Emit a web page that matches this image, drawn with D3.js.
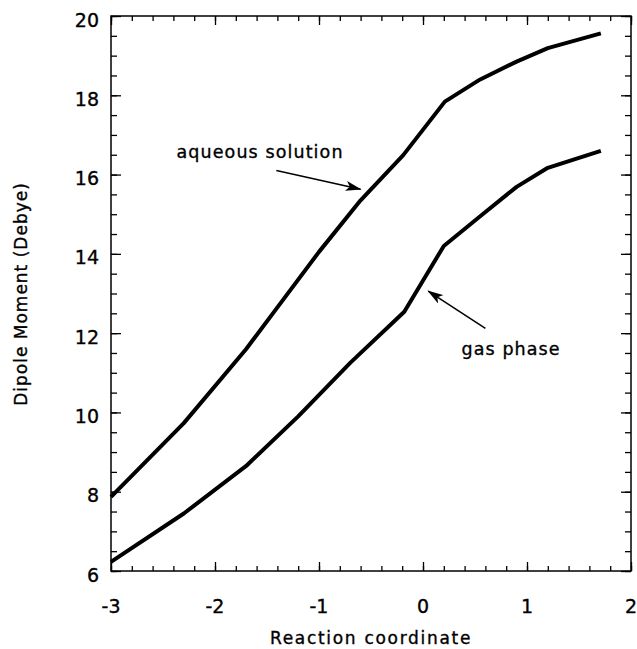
<!DOCTYPE html>
<html>
<head>
<meta charset="utf-8">
<script src="https://cdn.jsdelivr.net/npm/d3@7"></script>
<style>
  body { margin: 0; background: #fff; }
  text { font-family: "DejaVu Sans", Verdana, sans-serif; fill: #000; stroke: #000; stroke-width: 0.35px; }
</style>
</head>
<body>
<svg id="chart" width="637" height="649"></svg>
<script>
// reaction coordinate values
var aqueousX = [-3, -2.3, -1.7, -1.4, -1.0, -0.6, -0.19, 0.21, 0.55, 0.9, 1.2, 1.71];
var aqueousY = [7.87, 9.73, 11.6, 12.65, 14.05, 15.35, 16.49, 17.84, 18.4, 18.85, 19.19, 19.56];
var gasX = [-3, -2.3, -1.7, -1.2, -0.7, -0.18, 0.2, 0.55, 0.9, 1.2, 1.71];
var gasY = [6.23, 7.45, 8.65, 9.9, 11.25, 12.54, 14.2, 14.95, 15.69, 16.17, 16.6];

var xTicks = [-3, -2, -1, 0, 1, 2];
var yTicks = [6, 8, 10, 12, 14, 16, 18, 20];

// annotations: label, label position, arrow tail, arrow head (data coords)
var notes = [
	{text: "aqueous  solution", lx: -2.37, ly: 16.41, x1: -1.41, y1: 16.1, x2: -0.6, y2: 15.63},
	{text: "gas  phase", lx: 0.37, ly: 11.45, x1: 0.6, y1: 12.12, x2: 0.05, y2: 13.06}
];

var svg = d3.select("#chart"),
    W = +svg.attr("width"),
    H = +svg.attr("height");
var margin = {top: 16, right: 6, bottom: 78, left: 111};
var width = W - margin.left - margin.right,
    height = H - margin.top - margin.bottom;

var g = svg.append("g").attr("transform", "translate(" + margin.left + "," + margin.top + ")");

var x = d3.scaleLinear().domain([-3, 2]).range([0, width]);
var y = d3.scaleLinear().domain([6, 20]).range([height, 0]);

var xMinor = d3.range(-3, 2.001, 0.2).map(function(v) { return Math.round(v * 10) / 10; });
var yMinor = d3.range(6, 20.001, 0.5);

function styleAxis(sel) {
	sel.select(".domain").remove();
	sel.selectAll("line").attr("stroke", "#000").attr("stroke-width", 1.3);
	sel.selectAll("text").remove();
}

// minor + major ticks on all four sides, pointing inward
g.append("g").attr("transform", "translate(0," + height + ")")
	.call(d3.axisBottom(x).tickValues(xMinor).tickSize(-5)).call(styleAxis);
g.append("g").attr("transform", "translate(0," + height + ")")
	.call(d3.axisBottom(x).tickValues(xTicks).tickSize(-9)).call(styleAxis);
g.append("g")
	.call(d3.axisTop(x).tickValues(xMinor).tickSize(-5)).call(styleAxis);
g.append("g")
	.call(d3.axisTop(x).tickValues(xTicks).tickSize(-9)).call(styleAxis);
g.append("g")
	.call(d3.axisLeft(y).tickValues(yMinor).tickSize(-6)).call(styleAxis);
g.append("g")
	.call(d3.axisLeft(y).tickValues(yTicks).tickSize(-10)).call(styleAxis);
g.append("g").attr("transform", "translate(" + width + ",0)")
	.call(d3.axisRight(y).tickValues(yMinor).tickSize(-6)).call(styleAxis);
g.append("g").attr("transform", "translate(" + width + ",0)")
	.call(d3.axisRight(y).tickValues(yTicks).tickSize(-10)).call(styleAxis);

// frame
g.append("rect")
	.attr("width", width).attr("height", height)
	.attr("fill", "none").attr("stroke", "#000").attr("stroke-width", 1.5);

// tick labels
g.selectAll(".xlab").data(xTicks).enter().append("text")
	.attr("x", function(d) { return x(d); })
	.attr("y", height + 42)
	.attr("text-anchor", "middle")
	.style("font-size", "19px")
	.text(function(d) { return d; });

g.selectAll(".ylab").data(yTicks).enter().append("text")
	.attr("x", -12)
	.attr("y", function(d) { return y(d) + 10.5; })
	.attr("text-anchor", "end")
	.style("font-size", "19px")
	.text(function(d) { return d; });

// axis titles
g.append("text")
	.attr("x", width / 2).attr("y", height + 73)
	.attr("text-anchor", "middle")
	.style("font-size", "17px").style("letter-spacing", "1.7px")
	.text("Reaction  coordinate");

g.append("text")
	.attr("transform", "translate(" + (27 - margin.left) + "," + (294 - margin.top) + ") rotate(-90)")
	.attr("text-anchor", "middle")
	.style("font-size", "17px").style("letter-spacing", "1px")
	.text("Dipole Moment (Debye)");

// curves
var line = d3.line()
	.x(function(d) { return x(d[0]); })
	.y(function(d) { return y(d[1]); });

var series = [d3.zip(aqueousX, aqueousY), d3.zip(gasX, gasY)];
g.selectAll(".curve").data(series).enter().append("path")
	.attr("d", line)
	.attr("fill", "none")
	.attr("stroke", "#000")
	.attr("stroke-width", 4)
	.attr("stroke-linejoin", "round");

// arrowheads
svg.append("defs").append("marker")
	.attr("id", "arrow")
	.attr("viewBox", "0 0 16 10")
	.attr("refX", 15).attr("refY", 5)
	.attr("markerWidth", 16).attr("markerHeight", 10)
	.attr("markerUnits", "userSpaceOnUse")
	.attr("orient", "auto")
	.append("path")
	.attr("d", "M0,0 L16,5 L0,10 L4,5 Z")
	.attr("fill", "#000");

g.selectAll(".note").data(notes).enter().append("line")
	.attr("x1", function(d) { return x(d.x1); })
	.attr("y1", function(d) { return y(d.y1); })
	.attr("x2", function(d) { return x(d.x2); })
	.attr("y2", function(d) { return y(d.y2); })
	.attr("stroke", "#000")
	.attr("stroke-width", 1.5)
	.attr("marker-end", "url(#arrow)");

g.selectAll(".notetext").data(notes).enter().append("text")
	.attr("x", function(d) { return x(d.lx); })
	.attr("y", function(d) { return y(d.ly); })
	.style("font-size", "17.5px").style("letter-spacing", "1.1px")
	.text(function(d) { return d.text; });
</script>
</body>
</html>
